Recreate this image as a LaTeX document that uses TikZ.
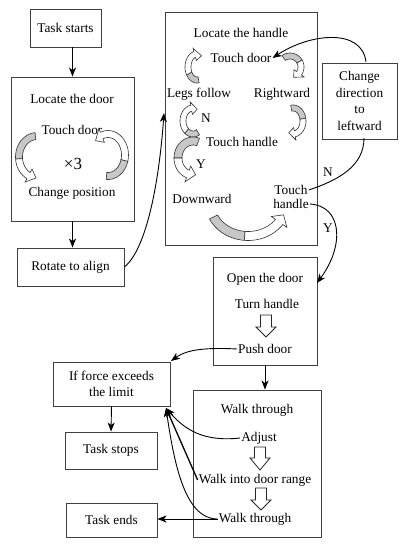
\documentclass[tikz,border=0pt]{standalone}
\usepackage{fontspec}
\setmainfont{Liberation Serif}
\usetikzlibrary{arrows.meta,calc}
% ribbon arrow: cx cy rx ry t1 tm t2 halfwidth headangle (screen angles, y down)
\newcommand{\rib}[9]{%
\pgfmathsetmacro\ribao{#3+#8}\pgfmathsetmacro\ribbo{#4+#8}%
\pgfmathsetmacro\ribai{#3-#8}\pgfmathsetmacro\ribbi{#4-#8}%
\pgfmathsetmacro\ribaO{#3+2.1*#8}\pgfmathsetmacro\ribbO{#4+2.1*#8}%
\pgfmathsetmacro\ribaI{#3-2.1*#8}\pgfmathsetmacro\ribbI{#4-2.1*#8}%
\pgfmathsetmacro\ribtip{#7+#9}%
\filldraw[ribg] plot[domain=#5:#6,samples=18] ({#1+\ribao*cos(\x)},{#2+\ribbo*sin(\x)}) -- plot[domain=#6:#5,samples=18] ({#1+\ribai*cos(\x)},{#2+\ribbi*sin(\x)}) -- cycle;
\filldraw[ribw] plot[domain=#6:#7,samples=18] ({#1+\ribao*cos(\x)},{#2+\ribbo*sin(\x)}) -- ({#1+\ribaO*cos(#7)},{#2+\ribbO*sin(#7)}) -- ({#1+#3*cos(\ribtip)},{#2+#4*sin(\ribtip)}) -- ({#1+\ribaI*cos(#7)},{#2+\ribbI*sin(#7)}) -- plot[domain=#7:#6,samples=18] ({#1+\ribai*cos(\x)},{#2+\ribbi*sin(\x)}) -- cycle;
}
% block (outline) down arrow: x, top, head start, tip
\newcommand{\blkarrow}[4]{%
\filldraw[blk] ({#1-5.5},#2) -- ({#1+5.5},#2) -- ({#1+5.5},#3) -- ({#1+10},#3) -- (#1,#4) -- ({#1-10},#3) -- ({#1-5.5},#3) -- cycle;
}
\begin{document}
\begin{tikzpicture}[x=1pt,y=-1pt,
  font=\fontsize{13.3}{16.7}\selectfont,
  box/.style={draw=black!75,line width=0.9pt,inner sep=0pt,align=center},
  lbl/.style={inner sep=1pt},
  arr/.style={line width=0.9pt,-{Stealth[length=9pt,width=7pt,inset=2.5pt]}},
  plain/.style={line width=0.9pt},
  ribg/.style={draw=black!80,line width=0.6pt,fill=black!22},
  ribw/.style={draw=black!80,line width=0.6pt,fill=white},
  blk/.style={draw=black!85,line width=0.8pt,fill=white}]
\useasboundingbox (0,0) rectangle (403,546);

% boxes
\node[box,minimum width=71pt,minimum height=38pt] (start) at (65.5,28) {Task starts};
\node[box,minimum width=123pt,minimum height=144pt] (ldoor) at (72.5,149) {};
\node[box,minimum width=107pt,minimum height=38pt] (rot) at (70.5,267) {Rotate to align};
\node[box,minimum width=152pt,minimum height=233pt] (lhandle) at (241,128.5) {};
\node[box,minimum width=75pt,minimum height=76pt] (chg) at (359.5,101) {Change\\direction\\to\\leftward};
\node[box,minimum width=104pt,minimum height=108pt] (open) at (265,311) {};
\node[box,minimum width=128pt,minimum height=147pt] (walk) at (257,463.5) {};
\node[box,minimum width=117pt,minimum height=44pt] (force) at (111.5,384) {If force exceeds\\the limit};
\node[box,minimum width=92pt,minimum height=37pt] (stops) at (111,450.5) {Task stops};
\node[box,minimum width=91pt,minimum height=34pt] (ends) at (111.5,520) {Task ends};

% texts in Locate the door
\node[lbl] (ldt) at (72,99) {Locate the door};
\node[lbl] (ldtd) at (72,130) {Touch door};
\node[lbl,font=\fontsize{17}{18}\selectfont] (x3) at (73,164) {×3};
\node[lbl] (ldcp) at (72,193) {Change position};

% texts in Locate the handle
\node[lbl] (lht) at (241,33) {Locate the handle};
\node[lbl] (tdh) at (241,58) {Touch door};
\node[lbl] (legs) at (199,94) {Legs follow};
\node[lbl] (right) at (282,94) {Rightward};
\node[lbl] (n1) at (206,118) {N};
\node[lbl] (th) at (242,142) {Touch handle};
\node[lbl] (y1) at (201,164) {Y};
\node[lbl] (down) at (202,199) {Downward};
\node[lbl] (tha) at (291,190) {Touch};
\node[lbl] (thb) at (291,204) {handle};
\node[lbl] (n2) at (328,172) {N};
\node[lbl] (y2) at (328,228) {Y};

% texts in Open the door
\node[lbl] (opt) at (265,279) {Open the door};
\node[lbl] (turn) at (267,304) {Turn handle};
\node[lbl] (push) at (265,349) {Push door};

% texts in Walk through
\node[lbl] (wtt) at (257,410) {Walk through};
\node[lbl] (adj) at (259,438) {Adjust};
\node[lbl] (wir) at (255,480) {Walk into door range};
\node[lbl] (wth) at (255,519) {Walk through};

% ribbon arrows
\rib{37}{157}{18}{21}{265}{175}{118}{3.5}{-25}
\rib{108}{155}{17}{21}{95}{15}{-112}{3.5}{-25}
\rib{197}{67}{9}{13}{80}{150}{255}{3}{45}
\rib{290}{67}{11}{11}{235}{330}{395}{3}{35}
\rib{293}{121}{10}{13}{260}{350}{440}{3}{35}
\rib{193}{121}{10}{13}{60}{130}{260}{3}{35}
\rib{193}{158}{15}{17}{290}{180}{110}{4}{-30}
\rib{248}{203}{38}{33}{155}{95}{35}{4.5}{-14}

% block arrows
\blkarrow{266}{315}{327}{337}
\blkarrow{260}{447}{458}{470}
\blkarrow{261}{488}{500}{510}

% connectors
\coordinate (lhin) at (164,113);
\coordinate (chgtop) at (366,62);
\coordinate (chgbot) at (364,138);
\coordinate (openin) at (317,283);
\coordinate (forcein) at (171,361);
\coordinate (fin) at (166,408);

\draw[arr] (ldoor.north |- start.south) -- (ldoor.north);
\draw[arr] (ldoor.south) -- (ldoor.south |- rot.north);
\draw[arr] (rot.east) .. controls +(22,-18) and +(-5,70) .. (lhin);
\draw[arr] (chgtop) .. controls +(-4,-34) and +(38,-25) .. (tdh.east);
\draw[plain] (tha.east) .. controls +(30,-10) and +(0,28) .. (chgbot);
\draw[arr] (thb.east) .. controls +(32,2) and +(28,-38) .. (openin);
\draw[arr] (push.west) .. controls +(-37,-2) and +(14,-10) .. (forcein);
\draw[arr] (open.south) -- (open.south |- walk.north);
\draw[arr] (force.south) -- (stops.north);
\draw[arr] (adj.west) .. controls +(-36,4) and +(19,22) .. (fin);
\draw[arr,line width=1.3pt] (wir.west) -- (fin);
\draw[arr] (wth.west) .. controls +(-31,0) and +(9,62) .. (fin);
\draw[arr] (wth.west) -- (wth.west -| ends.east);
\end{tikzpicture}
\end{document}
